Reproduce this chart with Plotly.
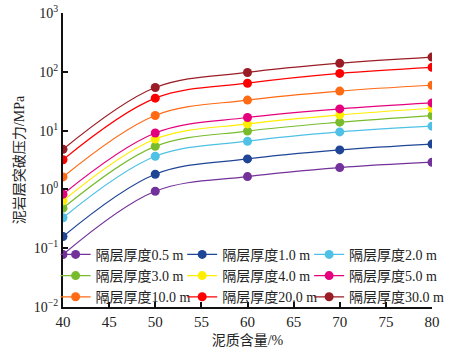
import plotly.graph_objects as go

x_vals = [40, 50, 60, 70, 80]

labels = ["隔层厚度0.5 m", "隔层厚度1.0 m", "隔层厚度2.0 m",
          "隔层厚度3.0 m", "隔层厚度4.0 m", "隔层厚度5.0 m",
          "隔层厚度10.0 m", "隔层厚度20.0 m", "隔层厚度30.0 m"]

s_05 = [0.078, 0.93, 1.65, 2.35, 2.9]
s_10 = [0.158, 1.81, 3.3, 4.7, 5.9]
s_20 = [0.33, 3.66, 6.6, 9.5, 11.9]
s_30 = [0.48, 5.4, 9.8, 13.9, 18.0]
s_40 = [0.64, 7.2, 13.0, 18.5, 24.0]
s_50 = [0.83, 9.1, 16.7, 23.4, 29.6]
s_100 = [1.63, 18.1, 33.0, 47.0, 59.0]
s_200 = [3.2, 35.6, 64.0, 94.0, 119.0]
s_300 = [4.8, 54.0, 97.5, 140.0, 178.0]

series = [s_05, s_10, s_20, s_30, s_40, s_50, s_100, s_200, s_300]
colors = ["#73319A", "#1F4596", "#4FC0E6", "#78BC2E", "#FFEE00",
          "#E5007E", "#FF6A14", "#FF0000", "#9A1D25"]
legend_ids = ["legend", "legend2", "legend3"] * 3

y_tickvals = [0.01, 0.1, 1, 10, 100, 1000]
y_ticktext = ["10<sup>−2</sup>", "10<sup>−1</sup>", "10<sup>0</sup>",
              "10<sup>1</sup>", "10<sup>2</sup>", "10<sup>3</sup>"]

FONT = "Times New Roman, Liberation Serif, Noto Sans CJK SC, serif"

fig = go.Figure()
for i, (lab, ys, c) in enumerate(zip(labels, series, colors)):
    fig.add_trace(go.Scatter(
        x=x_vals, y=ys, name=lab, mode="lines+markers",
        line=dict(color=c, width=1.2, shape="spline", smoothing=1.0),
        marker=dict(color=c, size=9),
        legend=legend_ids[i],
    ))

leg_common = dict(font=dict(family=FONT, size=14, color="#222"),
                  bgcolor="rgba(0,0,0,0)", borderwidth=0,
                  traceorder="normal",
                  xanchor="left", yanchor="top", y=0.232)

fig.update_layout(
    width=472, height=354,
    margin=dict(l=63, r=40, t=13, b=47, autoexpand=False),
    paper_bgcolor="white", plot_bgcolor="white",
    font=dict(family=FONT, size=14, color="#222"),
    showlegend=True,
    legend=dict(x=-0.02, **leg_common),
    legend2=dict(x=0.323, **leg_common),
    legend3=dict(x=0.667, **leg_common),
    xaxis=dict(range=[40, 80], dtick=5, tick0=40, automargin=False,
               showline=True, linecolor="#111", linewidth=2,
               ticks="inside", ticklen=5, tickwidth=1.5, tickcolor="#111",
               showgrid=False, zeroline=False,
               tickfont=dict(family=FONT, size=15),
               title=dict(text="泥质含量/%", font=dict(family=FONT, size=14), standoff=6)),
    yaxis=dict(type="log", range=[-2, 3], automargin=False,
               tickvals=y_tickvals, ticktext=y_ticktext,
               showline=True, linecolor="#111", linewidth=2,
               ticks="inside", ticklen=5, tickwidth=1.5, tickcolor="#111",
               showgrid=False, zeroline=False,
               tickfont=dict(family=FONT, size=14),
               title=dict(text="泥岩层突破压力/MPa", font=dict(family=FONT, size=14), standoff=6)),
)

fig.write_html("out.html")
